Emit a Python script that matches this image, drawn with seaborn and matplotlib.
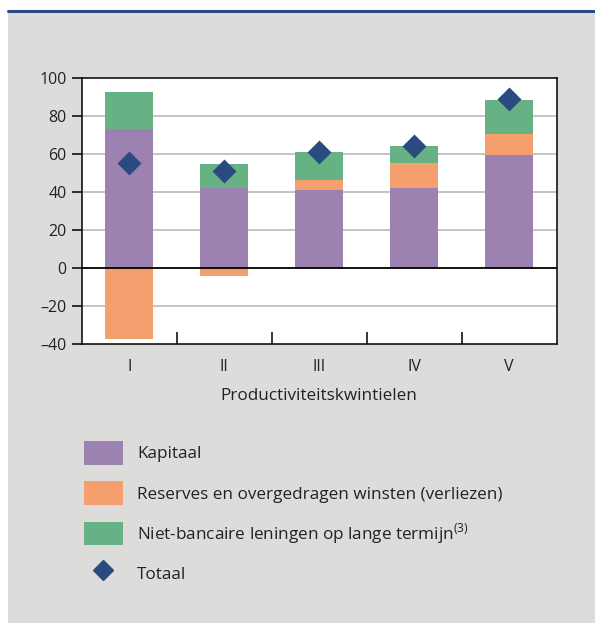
import matplotlib
matplotlib.use("Agg")
import matplotlib.pyplot as plt
from matplotlib.patches import Rectangle, Patch
from matplotlib.lines import Line2D
import seaborn as sns
import numpy as np
import pandas as pd

categories = ["I", "II", "III", "IV", "V"]
kapitaal = [73.3, 42.4, 41.1, 42.4, 59.6]
reserves = [-37.3, -4.0, 5.5, 13.0, 11.2]
leningen = [19.5, 12.4, 14.6, 8.9, 17.8]
totaal = [55.5, 51.3, 61.3, 64.5, 88.9]

series_labels = ["Kapitaal", "Reserves en overgedragen winsten (verliezen)",
                 "Niet-bancaire leningen op lange termijn$^{\\mathregular{(3)}}$", "Totaal"]
y_ticks = [-40, -20, 0, 20, 40, 60, 80, 100]
y_ticklabels = ["\u201340", "\u201320", "0", "20", "40", "60", "80", "100"]

c_kap = "#9B82B0"
c_res = "#F59E6E"
c_len = "#66B285"
c_tot = "#2B4B80"
bg = "#DCDCDA"
txt = "#222222"

sns.set_theme(style="white")
plt.rcParams["font.family"] = ["Open Sans", "DejaVu Sans"]
plt.rcParams["text.color"] = txt

W, H = 595, 623
fig = plt.figure(figsize=(W / 100, H / 100), dpi=100, facecolor="white")
fig.patches.append(Rectangle((8 / W, 0), 1 - 8 / W, (H - 12) / H, transform=fig.transFigure,
                             facecolor=bg, edgecolor="none", zorder=-10))
fig.lines.append(Line2D([8 / W, 1], [(H - 10.5) / H, (H - 10.5) / H], transform=fig.transFigure,
                        color=c_tot, lw=2.2, zorder=-9))

left, right, top, bottom = 81.7, 556.7, 78.3, 344.0
ax = fig.add_axes([left / W, (H - bottom) / H, (right - left) / W, (bottom - top) / H])
ax.set_facecolor("white")

df = pd.DataFrame({"cat": categories, "kap": kapitaal, "res": reserves,
                   "len": leningen, "tot": totaal})
res_bottom = [k if r >= 0 else 0 for k, r in zip(kapitaal, reserves)]
len_bottom = [k + max(r, 0) for k, r in zip(kapitaal, reserves)]

bw = 0.51
bar_kw = dict(width=bw, saturation=1, ax=ax, zorder=3, linewidth=0, edgecolor="none")
sns.barplot(data=df, x="cat", y="kap", color=c_kap, **bar_kw)
sns.barplot(data=df, x="cat", y="res", color=c_res, bottom=res_bottom, **bar_kw)
sns.barplot(data=df, x="cat", y="len", color=c_len, bottom=len_bottom, **bar_kw)
sns.pointplot(data=df, x="cat", y="tot", color=c_tot, linestyle="none", marker="D",
              markersize=10, ax=ax, zorder=5)

ax.set_xlim(-0.5, 4.5)
ax.set_ylim(-40, 100)
ax.set_yticks(y_ticks)
ax.set_yticklabels(y_ticklabels)
for v in y_ticks:
    if v not in (-40, 100, 0):
        ax.axhline(v, color="#B4B4B4", lw=1.1, zorder=1)
ax.axhline(0, color="black", lw=1.3, zorder=4)

ax.set_xticks(range(len(categories)))
ax.set_xticklabels(categories)
ax.set_xticks([0.5, 1.5, 2.5, 3.5], minor=True)
ax.tick_params(axis="x", which="major", length=0, pad=11, labelsize=11.5, labelcolor=txt)
ax.tick_params(axis="x", which="minor", direction="in", length=8.5, width=1.1, color="black", bottom=True)
ax.tick_params(axis="y", which="major", direction="out", length=7, width=1.1, color="black",
               left=True, pad=4, labelsize=11.5, labelcolor=txt)
for s in ax.spines.values():
    s.set_color("black")
    s.set_linewidth(1.1)
    s.set_visible(True)
ax.set_xlabel("Productiviteitskwintielen", fontsize=12.3, color=txt, labelpad=9)
ax.set_ylabel("")

handles = [Patch(facecolor=c_kap, edgecolor="none"),
           Patch(facecolor=c_res, edgecolor="none"),
           Patch(facecolor=c_len, edgecolor="none"),
           Line2D([], [], linestyle="none", marker="D", markersize=10, color=c_tot)]
leg = fig.legend(handles, series_labels, loc="upper left",
                 bbox_to_anchor=(84 / W, (H - 441) / H), bbox_transform=fig.transFigure,
                 frameon=False, fontsize=12.3, handlelength=2.28, handleheight=1.78,
                 labelspacing=0.94, handletextpad=0.82, borderpad=0, borderaxespad=0)
for t in leg.get_texts():
    t.set_color(txt)

fig.savefig("out.png", dpi=100, facecolor=fig.get_facecolor())
